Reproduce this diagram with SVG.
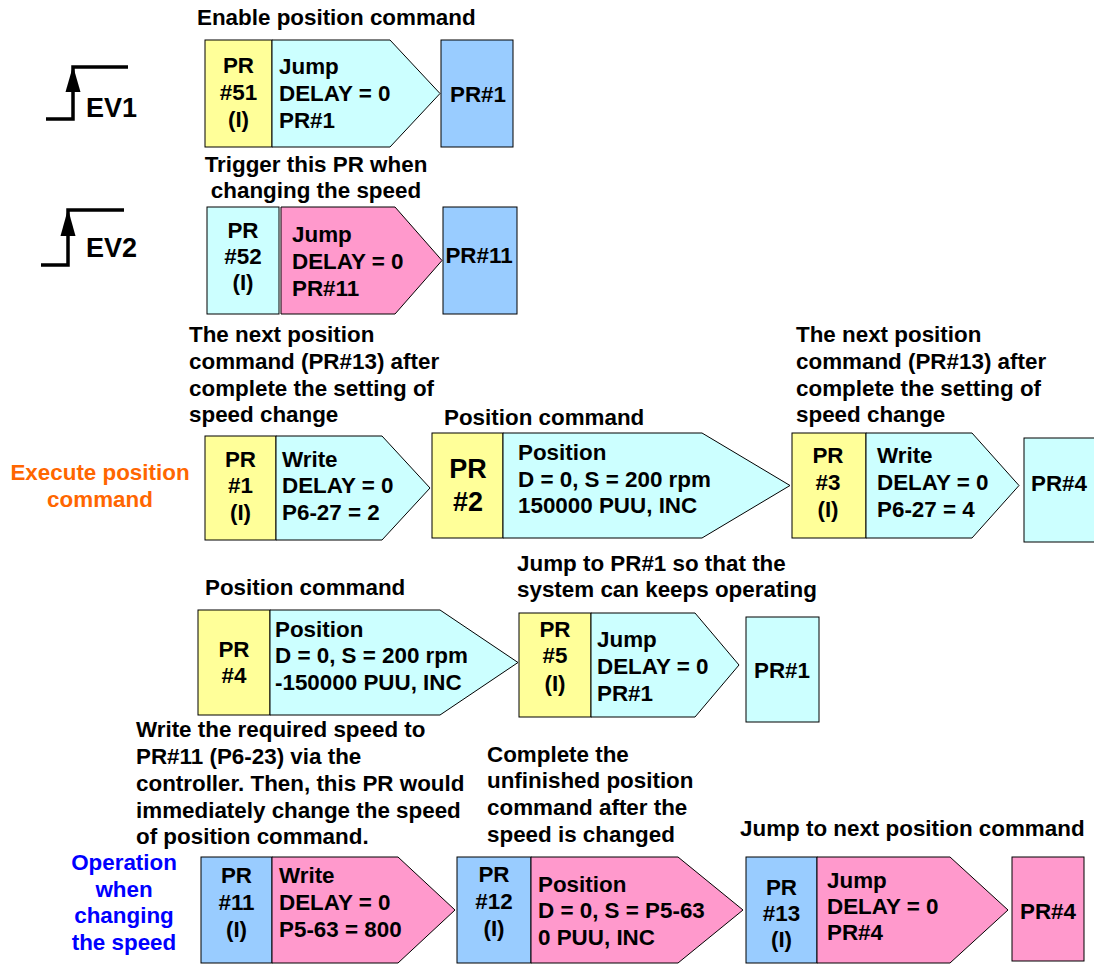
<svg xmlns="http://www.w3.org/2000/svg" width="1094" height="965" viewBox="0 0 1094 965">
<style>
text{font-family:"Liberation Sans",Arial,sans-serif;font-weight:bold;font-size:22.4px;fill:#000}
.c{text-anchor:middle}
.big{font-size:27px}
.ev{font-size:27px}
.or{fill:#FF6600}
.bl{fill:#0000FF}
.y{fill:#FFFF99;stroke:#000;stroke-width:1}
.cy{fill:#CCFFFF;stroke:#000;stroke-width:1}
.b{fill:#99CCFF;stroke:#000;stroke-width:1}
.p{fill:#FF99CC;stroke:#000;stroke-width:1}
.sig{fill:none;stroke:#000;stroke-width:3.5}
</style>
<rect width="1094" height="965" fill="#fff"/>

<!-- annotations -->
<g id="annotations">
<text x="197" y="25">Enable position command</text>
<text class="c" x="316" y="172">Trigger this PR when</text>
<text class="c" x="316" y="198">changing the speed</text>
<text x="189" y="342">The next position</text>
<text x="189" y="369">command (PR#13) after</text>
<text x="189" y="396">complete the setting of</text>
<text x="189" y="422">speed change</text>
<text x="444" y="425">Position command</text>
<text x="796" y="342">The next position</text>
<text x="796" y="369">command (PR#13) after</text>
<text x="796" y="396">complete the setting of</text>
<text x="796" y="422">speed change</text>
<text class="c or" x="100" y="480">Execute position</text>
<text class="c or" x="100" y="507">command</text>
<text x="205" y="595">Position command</text>
<text x="517" y="571">Jump to PR#1 so that the</text>
<text x="517" y="597">system can keeps operating</text>
<text x="136" y="737">Write the required speed to</text>
<text x="136" y="764">PR#11 (P6-23) via the</text>
<text x="136" y="791">controller. Then, this PR would</text>
<text x="136" y="818">immediately change the speed</text>
<text x="136" y="844">of position command.</text>
<text x="487" y="762">Complete the</text>
<text x="487" y="788">unfinished position</text>
<text x="487" y="815">command after the</text>
<text x="487" y="842">speed is changed</text>
<text x="740" y="836">Jump to next position command</text>
<text class="c bl" x="124" y="870">Operation</text>
<text class="c bl" x="124" y="897">when</text>
<text class="c bl" x="124" y="923">changing</text>
<text class="c bl" x="124" y="950">the speed</text>
</g>

<!-- EV signals -->
<g id="ev1">
<polyline class="sig" points="46,119 73,119 73,67 128,67"/>
<polygon points="73,66 65.5,92 80.5,92" fill="#000"/>
<text class="ev" x="86" y="117">EV1</text>
</g>
<g id="ev2">
<polyline class="sig" points="41,265 68,265 68,210 124,210"/>
<polygon points="68,209 60.5,236 75.5,236" fill="#000"/>
<text class="ev" x="86" y="257">EV2</text>
</g>

<!-- Row 1 -->
<g id="pr51">
<rect class="y" x="205" y="40" width="67" height="107"/>
<polygon class="cy" points="272,40 390,40 440,93.5 390,147 272,147"/>
<text class="c" x="238.5" y="73">PR</text>
<text class="c" x="238.5" y="100">#51</text>
<text class="c" x="238.5" y="127">(I)</text>
<text x="279" y="74">Jump</text>
<text x="279" y="101">DELAY = 0</text>
<text x="279" y="128">PR#1</text>
</g>
<g id="r1-pr1">
<rect class="b" x="441" y="40" width="72" height="107"/>
<text class="c" x="478" y="102">PR#1</text>
</g>

<!-- Row 2 -->
<g id="pr52">
<rect class="cy" x="207" y="207" width="72" height="107"/>
<polygon class="p" points="281,207 395,207 442,260.5 395,314 281,314"/>
<text class="c" x="243" y="238">PR</text>
<text class="c" x="243" y="264">#52</text>
<text class="c" x="243" y="290">(I)</text>
<text x="292" y="242">Jump</text>
<text x="292" y="269">DELAY = 0</text>
<text x="292" y="296">PR#11</text>
</g>
<g id="r2-pr11">
<rect class="b" x="443" y="207" width="74" height="107"/>
<text class="c" x="479" y="263">PR#11</text>
</g>

<!-- Row 3 -->
<g id="pr1">
<rect class="y" x="205" y="436" width="71" height="104"/>
<polygon class="cy" points="276,436 382,436 430,488 382,540 276,540"/>
<text class="c" x="240.5" y="467">PR</text>
<text class="c" x="240.5" y="493">#1</text>
<text class="c" x="240.5" y="520">(I)</text>
<text x="282" y="467">Write</text>
<text x="282" y="493">DELAY = 0</text>
<text x="282" y="520">P6-27 = 2</text>
</g>
<g id="pr2">
<rect class="y" x="432" y="433" width="71" height="105"/>
<polygon class="cy" points="503,433 702,433 790,485.5 702,538 503,538"/>
<text class="c big" x="468" y="478">PR</text>
<text class="c big" x="468" y="511">#2</text>
<text x="518" y="460">Position</text>
<text x="518" y="487">D = 0, S = 200 rpm</text>
<text x="518" y="513">150000 PUU, INC</text>
</g>
<g id="pr3">
<rect class="y" x="792" y="433" width="74" height="105"/>
<polygon class="cy" points="866,433 972,433 1019,485.5 972,538 866,538"/>
<text class="c" x="828" y="463">PR</text>
<text class="c" x="828" y="490">#3</text>
<text class="c" x="828" y="517">(I)</text>
<text x="877" y="463">Write</text>
<text x="877" y="490">DELAY = 0</text>
<text x="877" y="517">P6-27 = 4</text>
</g>
<g id="r3-pr4">
<rect class="cy" x="1024" y="438" width="72" height="104"/>
<text class="c" x="1059" y="491">PR#4</text>
</g>

<!-- Row 4 -->
<g id="pr4">
<rect class="y" x="198" y="610" width="72" height="105"/>
<polygon class="cy" points="270,610 440,610 518,662.5 440,715 270,715"/>
<text class="c" x="234" y="657">PR</text>
<text class="c" x="234" y="683">#4</text>
<text x="275" y="637">Position</text>
<text x="275" y="663">D = 0, S = 200 rpm</text>
<text x="275" y="690">-150000 PUU, INC</text>
</g>
<g id="pr5">
<rect class="y" x="519" y="613" width="72" height="104"/>
<polygon class="cy" points="591,613 695,613 739,665 695,717 591,717"/>
<text class="c" x="555" y="637">PR</text>
<text class="c" x="555" y="663">#5</text>
<text class="c" x="555" y="691">(I)</text>
<text x="597" y="647">Jump</text>
<text x="597" y="674">DELAY = 0</text>
<text x="597" y="701">PR#1</text>
</g>
<g id="r4-pr1">
<rect class="cy" x="746" y="617" width="73" height="105"/>
<text class="c" x="782" y="678">PR#1</text>
</g>

<!-- Row 5 -->
<g id="pr11">
<rect class="b" x="201" y="857" width="71" height="106"/>
<polygon class="p" points="272,857 398,857 455,910 398,963 272,963"/>
<text class="c" x="236.5" y="883">PR</text>
<text class="c" x="236.5" y="910">#11</text>
<text class="c" x="236.5" y="937">(I)</text>
<text x="279" y="883">Write</text>
<text x="279" y="910">DELAY = 0</text>
<text x="279" y="937">P5-63 = 800</text>
</g>
<g id="pr12">
<rect class="b" x="457" y="857" width="74" height="106"/>
<polygon class="p" points="531,857 678,857 743,910 678,963 531,963"/>
<text class="c" x="494" y="882">PR</text>
<text class="c" x="494" y="909">#12</text>
<text class="c" x="494" y="936">(I)</text>
<text x="538" y="892">Position</text>
<text x="538" y="918">D = 0, S = P5-63</text>
<text x="538" y="945">0 PUU, INC</text>
</g>
<g id="pr13">
<rect class="b" x="746" y="857" width="71" height="106"/>
<polygon class="p" points="817,857 950,857 1008,910 950,963 817,963"/>
<text class="c" x="781.5" y="895">PR</text>
<text class="c" x="781.5" y="921">#13</text>
<text class="c" x="781.5" y="947">(I)</text>
<text x="827" y="888">Jump</text>
<text x="827" y="914">DELAY = 0</text>
<text x="827" y="940">PR#4</text>
</g>
<g id="r5-pr4">
<rect class="p" x="1012" y="857" width="72" height="104"/>
<text class="c" x="1048" y="919">PR#4</text>
</g>

<g id="connectors"></g>
</svg>
